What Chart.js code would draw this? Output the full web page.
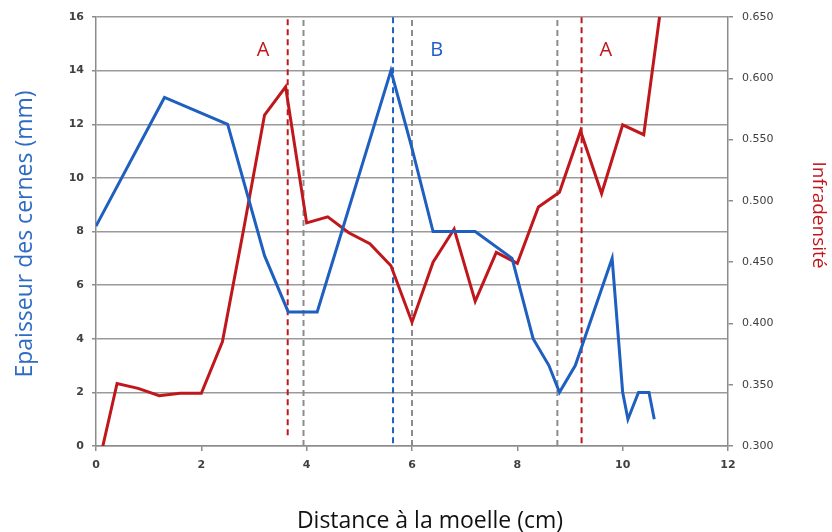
<!DOCTYPE html>
<html>
<head>
<meta charset="utf-8">
<script src="https://cdn.jsdelivr.net/npm/chart.js@4/dist/chart.umd.min.js"></script>
<style>
  html, body { margin: 0; padding: 0; background: #ffffff; }
  canvas { display: block; }
</style>
</head>
<body>
<canvas id="c" width="832" height="532"></canvas>
<script>
// ---- Data ----
const thicknessX = [0, 1.3, 2.5, 3.2, 3.65, 4.2, 5.6, 6.0, 6.4, 7.2, 7.9, 8.3, 8.6, 8.8, 9.1, 9.8, 10.0, 10.1, 10.3, 10.5, 10.6];
const thicknessY = [8.2, 13, 12, 7.1, 5, 5, 14, 11.1, 8, 8, 7, 4, 3, 2, 3, 7, 2, 1, 2, 2, 1];

const densityX = [0.13, 0.4, 0.8, 1.2, 1.6, 2.0, 2.4, 2.8, 3.2, 3.6, 4.0, 4.4, 4.8, 5.2, 5.6, 6.0, 6.4, 6.8, 7.2, 7.6, 8.0, 8.4, 8.8, 9.2, 9.6, 10.0, 10.4, 10.7];
const densityY = [0.300, 0.351, 0.347, 0.341, 0.343, 0.343, 0.385, 0.476, 0.570, 0.593, 0.482, 0.487, 0.474, 0.465, 0.447, 0.401, 0.450, 0.477, 0.418, 0.458, 0.449, 0.495, 0.507, 0.557, 0.506, 0.562, 0.554, 0.650];

const markerX = [3.64, 3.94, 5.64, 6.0, 8.76, 9.22];
const markerBottom = [0.4, 0, 0.1, 0, 0, 0.1];
const markerKind = ['A', 'limit', 'B', 'limit', 'limit', 'A'];

const zoneLabels = ['A', 'B', 'A'];
const zoneX = [3.17, 6.47, 9.68];
const zoneY = 14.55;

const xTitle = 'Distance à la moelle (cm)';
const yTitle = 'Epaisseur des cernes (mm)';
const y2Title = 'Infradensité';

// ---- Styles ----
const BLUE = '#1F5FBF';
const BLUE_TXT = '#2E6CC4';
const RED = '#C0171C';
const GRAY_DASH = '#8C8C8C';
const GRID = '#9A9A9A';
const AXIS = '#8C8C8C';
const TICK_TXT = '#404040';
const kindColor = { A: RED, B: BLUE, limit: GRAY_DASH };

const datasets = [];
markerX.forEach((mx, i) => {
  datasets.push({
    label: 'marker' + i,
    data: [{ x: mx, y: markerBottom[i] }, { x: mx, y: 16 }],
    yAxisID: 'y',
    borderColor: kindColor[markerKind[i]],
    borderWidth: 2,
    borderDash: [6, 4],
    pointRadius: 0,
    fill: false,
    order: 3
  });
});
datasets.push({
  label: 'Infradensité',
  data: densityX.map((x, i) => ({ x, y: densityY[i] })),
  yAxisID: 'y2',
  borderColor: RED,
  borderWidth: 3,
  pointRadius: 0,
  tension: 0,
  fill: false,
  order: 2
});
datasets.push({
  label: 'Epaisseur',
  data: thicknessX.map((x, i) => ({ x, y: thicknessY[i] })),
  yAxisID: 'y',
  borderColor: BLUE,
  borderWidth: 3,
  pointRadius: 0,
  tension: 0,
  fill: false,
  order: 1
});

const textPlugin = {
  id: 'texts',
  afterDatasetsDraw(chart) {
    const ctx = chart.ctx;
    const xs = chart.scales.x, ys = chart.scales.y;
    ctx.save();
    // zone labels
    ctx.font = '20px "Open Sans"';
    ctx.textAlign = 'center';
    ctx.textBaseline = 'alphabetic';
    zoneLabels.forEach((t, i) => {
      ctx.fillStyle = t === 'B' ? BLUE : RED;
      ctx.fillText(t, xs.getPixelForValue(zoneX[i]), ys.getPixelForValue(zoneY));
    });
    // x title
    ctx.fillStyle = '#111111';
    ctx.font = '23px "Open Sans"';
    ctx.fillText(xTitle, 430, 528);
    // left title
    ctx.save();
    ctx.translate(32, 234);
    ctx.rotate(-Math.PI / 2);
    ctx.fillStyle = BLUE_TXT;
    ctx.font = '23px "Open Sans"';
    ctx.fillText(yTitle, 0, 0);
    ctx.restore();
    // right title
    ctx.save();
    ctx.translate(813, 215);
    ctx.rotate(Math.PI / 2);
    ctx.fillStyle = RED;
    ctx.font = '19px "Open Sans"';
    ctx.fillText(y2Title, 0, 0);
    ctx.restore();
    ctx.restore();
  }
};

new Chart(document.getElementById('c'), {
  type: 'line',
  data: { datasets },
  options: {
    responsive: false,
    animation: false,
    devicePixelRatio: 1,
    layout: { padding: { top: 17, left: 0, right: 0, bottom: 0 } },
    plugins: { legend: { display: false }, tooltip: { enabled: false } },
    scales: {
      x: {
        type: 'linear', min: 0, max: 12,
        ticks: { stepSize: 2, color: TICK_TXT, font: { family: 'DejaVu Sans', size: 11, weight: 'bold' }, padding: 8 },
        grid: { drawOnChartArea: false, drawTicks: true, tickLength: 5, color: AXIS, lineWidth: 1.5 },
        border: { color: AXIS, width: 1.5 },
        afterFit: s => { s.height = 86; }
      },
      y: {
        position: 'left', min: 0, max: 16,
        ticks: { stepSize: 2, color: TICK_TXT, font: { family: 'DejaVu Sans', size: 11, weight: 'bold' }, padding: 8 },
        grid: { color: GRID, lineWidth: 1.5, tickLength: 4, tickColor: AXIS },
        border: { color: AXIS, width: 1.5 },
        afterFit: s => { s.width = 96; }
      },
      y2: {
        position: 'right', min: 0.3, max: 0.65,
        ticks: { stepSize: 0.05, color: TICK_TXT, font: { family: 'DejaVu Sans', size: 11 }, padding: 9,
                 callback: v => Number(v).toFixed(3) },
        grid: { drawOnChartArea: false, tickLength: 5, color: AXIS, lineWidth: 1.5 },
        border: { color: AXIS, width: 1.5 },
        afterFit: s => { s.width = 104; }
      }
    }
  },
  plugins: [textPlugin]
});
</script>
</body>
</html>
